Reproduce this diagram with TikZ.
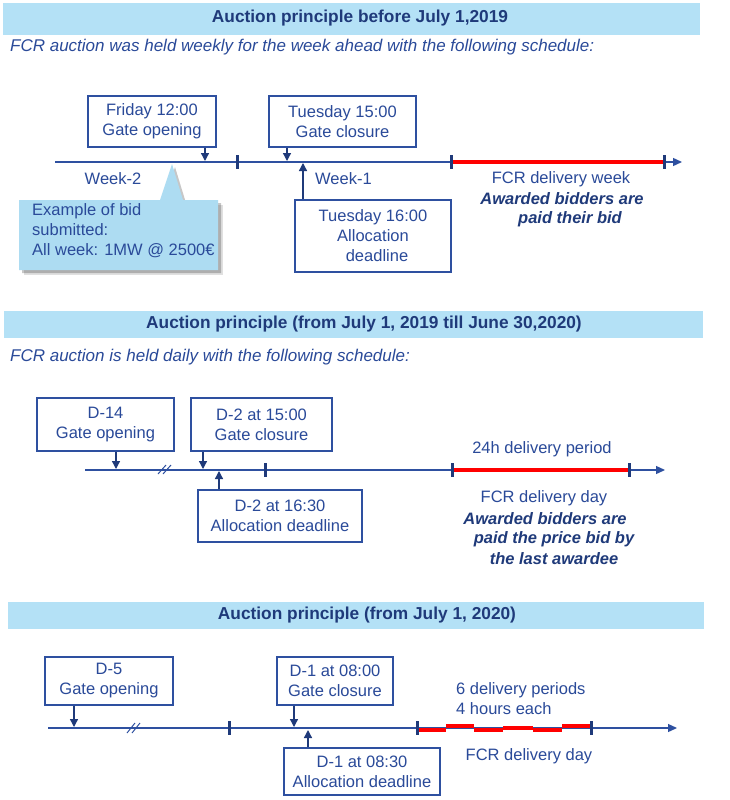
\documentclass[tikz,border=0pt]{standalone}
\usepackage{fontspec}
\setmainfont{Liberation Sans}
\usetikzlibrary{arrows.meta}
\definecolor{navy}{HTML}{1F3A7A}
\definecolor{txt}{HTML}{2A4A99}
\definecolor{ln}{HTML}{2E50A0}
\definecolor{bannerc}{HTML}{B4E1F6}
\definecolor{callfill}{HTML}{ADDCF2}
\definecolor{rd}{HTML}{FF0000}
\begin{document}
\begin{tikzpicture}[x=1pt,y=-1pt,
  box/.style={draw=ln, line width=1.2pt, fill=white, text=txt, align=center, font=\fontsize{16.5}{20}\selectfont, inner sep=0pt},
  lbl/.style={text=txt, font=\fontsize{16.5}{20}\selectfont, inner sep=0pt, align=center},
  bi/.style={text=navy, font=\fontsize{16.5}{20}\bfseries\itshape\selectfont, inner sep=0pt},
  ttl/.style={text=navy, font=\fontsize{17.3}{20}\bfseries\selectfont, inner sep=0pt},
  subt/.style={text=txt, font=\fontsize{17}{20}\itshape\selectfont, inner sep=0pt, anchor=west},
  axis/.style={draw=ln, line width=1.3pt, -{Triangle[length=9pt,width=8pt]}},
  tickm/.style={draw=navy, line width=3pt},
  redseg/.style={draw=rd, line width=4pt},
  arr/.style={draw=navy, line width=1.3pt, -{Triangle[length=8pt,width=8pt]}},
  brk/.style={draw=ln, line width=1pt},
]
\useasboundingbox (0,0) rectangle (729,800);
\fill[white] (0,0) rectangle (729,800);

% ===== Section 1 =====
\fill[bannerc] (3,3) rectangle (700,35);
\node[ttl] (title1) at (360,18) {Auction principle before July 1,2019};
\node[subt] (sub1) at (10,47) {FCR auction was held weekly for the week ahead with the following schedule:};

\coordinate (t1s) at (55,162);
\coordinate (t1e) at (682,162);
\draw[axis] (t1s) -- (t1e);
\draw[redseg] (451,162) -- (664,162);
\draw[tickm] (237,155) -- (237,169);
\draw[tickm] (451,155) -- (451,169);
\draw[tickm] (664,155) -- (664,169);

\node[box, minimum width=128pt, minimum height=51pt] (b1) at (152,121.5) {Friday 12:00\\Gate opening};
\node[box, minimum width=147pt, minimum height=51pt] (b2) at (342.5,121.5) {Tuesday 15:00\\Gate closure};
\node[box, minimum width=156pt, minimum height=72pt] (b3) at (373,236) {Tuesday 16:00\\Allocation\\\hspace*{8pt}deadline};

\coordinate (g1) at (205,161);
\coordinate (g2) at (287,161);
\coordinate (g3) at (303,163);
\draw[arr] (b1.south -| g1) -- (g1);
\draw[arr] (b2.south -| g2) -- (g2);
\draw[arr] (b3.north -| g3) -- (g3);

\node[lbl] (w2) at (113,179) {Week-2};
\node[lbl, anchor=west] (w1) at (315,179) {Week-1};

% callout with shadow
\fill[black, opacity=0.22] (22,203) -- (163,203) -- (175,167) -- (186,203) -- (221,203) -- (221,273) -- (22,273) -- cycle;
\fill[black, opacity=0.12] (23.5,204.5) -- (222.5,204.5) -- (222.5,274.5) -- (23.5,274.5) -- cycle;
\fill[callfill] (19,200) -- (160,200) -- (172,164) -- (183,200) -- (218,200) -- (218,270) -- (19,270) -- cycle;
\node[lbl, anchor=north west, align=left] (call) at (32,203) {Example of bid\\submitted:\\All week: 1MW @ 2500€};

\node[lbl] (dw) at (561,179) {FCR delivery week};
\node[bi] (aw1) at (562,199) {Awarded bidders are};
\node[bi] (aw2) at (570,219) {paid their bid};

% ===== Section 2 =====
\fill[bannerc] (4,311) rectangle (703,338);
\node[ttl] (title2) at (364,324) {Auction principle (from July 1, 2019 till June 30,2020)};
\node[subt] (sub2) at (10,357) {FCR auction is held daily with the following schedule:};

\coordinate (t2s) at (85,470);
\coordinate (t2e) at (665,470);
\draw[axis] (t2s) -- (t2e);
\draw[redseg] (452,470) -- (629,470);
\draw[brk] (158,474) -- (166,465);
\draw[brk] (163,474) -- (171,465);
\draw[tickm] (265,463) -- (265,477);
\draw[tickm] (452,463) -- (452,477);
\draw[tickm] (629,463) -- (629,477);

\node[box, minimum width=137pt, minimum height=53pt] (c1) at (105.5,424.5) {D-14\\Gate opening};
\node[box, minimum width=141pt, minimum height=53pt] (c2) at (261.5,424.5) {D-2 at 15:00\\Gate closure};
\node[box, minimum width=164pt, minimum height=52pt] (c3) at (280,516) {D-2 at 16:30\\Allocation deadline};

\coordinate (h1) at (116,469);
\coordinate (h2) at (203,469);
\coordinate (h3) at (219,471);
\draw[arr] (c1.south -| h1) -- (h1);
\draw[arr] (c2.south -| h2) -- (h2);
\draw[arr] (c3.north -| h3) -- (h3);

\node[lbl] (dp2) at (542,449) {24h delivery period};
\node[lbl] (dd2) at (544,498) {FCR delivery day};
\node[bi] (bb1) at (545,519) {Awarded bidders are};
\node[bi] (bb2) at (554,539) {paid the price bid by};
\node[bi] (bb3) at (554,559) {the last awardee};

% ===== Section 3 =====
\fill[bannerc] (8,602) rectangle (704,629);
\node[ttl] (title3) at (367,615) {Auction principle (from July 1, 2020)};

\coordinate (t3s) at (48,728);
\coordinate (t3e) at (677,728);
\draw[axis] (t3s) -- (t3e);
\draw[redseg] (418,729.5) -- (446,729.5);
\draw[redseg] (446,725.8) -- (474,725.8);
\draw[redseg] (474,729.5) -- (503,729.5);
\draw[redseg] (503,727.5) -- (533,727.5);
\draw[redseg] (533,729.5) -- (562,729.5);
\draw[redseg] (562,726) -- (590,726);
\draw[brk] (127,733) -- (135,723);
\draw[brk] (132,733) -- (140,723);
\draw[tickm] (229,721) -- (229,735);
\draw[tickm] (417,721) -- (417,735);
\draw[tickm] (591,721) -- (591,735);

\node[box, minimum width=128pt, minimum height=48pt] (d1) at (109,681) {D-5\\Gate opening};
\node[box, minimum width=116pt, minimum height=48pt] (d2) at (335,681) {D-1 at 08:00\\Gate closure};
\node[box, minimum width=156pt, minimum height=47pt] (d3) at (362,771.5) {D-1 at 08:30\\Allocation deadline};

\coordinate (k1) at (74,727);
\coordinate (k2) at (294,727);
\coordinate (k3) at (308,730);
\draw[arr] (d1.south -| k1) -- (k1);
\draw[arr] (d2.south -| k2) -- (k2);
\draw[arr] (d3.north -| k3) -- (k3);

\node[lbl, anchor=north west, align=left] (dp3) at (456,682) {6 delivery periods\\4 hours each};
\node[lbl] (dd3) at (529,756) {FCR delivery day};
\end{tikzpicture}
\end{document}
